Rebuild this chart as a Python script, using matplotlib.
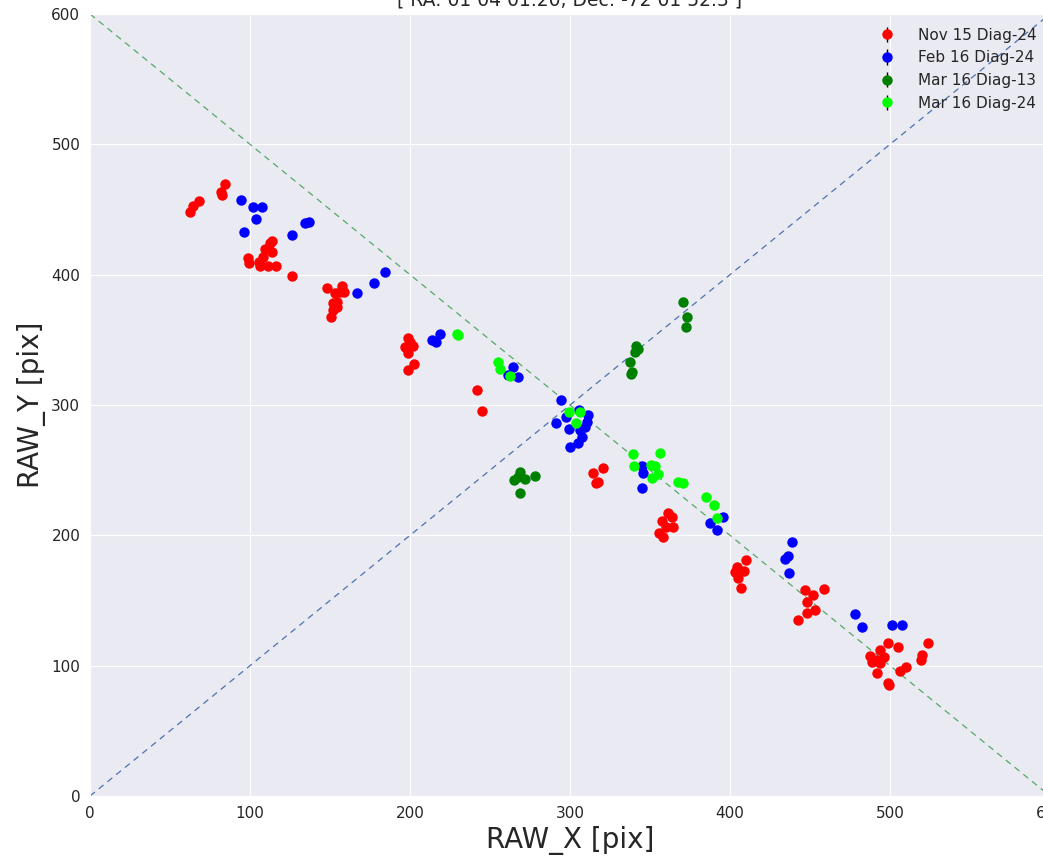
import numpy as np
import matplotlib
matplotlib.use("Agg")
import matplotlib.pyplot as plt
import seaborn as sns

sns.set_style("darkgrid")
plt.rcParams['font.family'] = ['DejaVu Sans']

title = "[ RA: 01 04 01.20, Dec: -72 01 52.3 ]"

# Nov 15 Diag-24
nov15_x = [62.5, 64.6, 68.1, 82.3, 84.4, 81.9, 98.8, 99.4, 105.6, 108.1, 109.4, 112.5, 113.8,
           113.8, 111.3, 116.3, 106.3, 126.3, 148.3, 157.3, 158.9, 153.1, 152.1, 154.6, 152.1,
           150.4, 156.3, 154.2, 198.9, 200.0, 196.9, 202.1, 198.9, 202.5, 198.6, 241.7, 244.7,
           314.6, 320.4, 316.3, 317.5, 361.4, 363.6, 357.3, 364.2, 360.0, 355.8, 358.3, 410.0,
           404.1, 408.8, 403.1, 405.2, 406.7, 446.9, 452.1, 458.8, 447.9, 453.1, 447.9, 442.5,
           498.9, 493.8, 505.2, 487.2, 496.3, 491.7, 488.6, 493.8, 491.7, 498.9, 499.4, 506.3,
           510.3, 519.4, 520.3, 523.9]
nov15_y = [447.7, 453.0, 456.4, 461.5, 469.9, 463.8, 412.9, 409.1, 409.8, 413.7, 419.8, 424.4, 425.9,
           417.5, 406.8, 406.8, 406.8, 399.1, 390.1, 391.6, 386.6, 385.8, 378.1, 379.4, 373.0,
           367.4, 387.0, 375.5, 351.3, 348.7, 344.4, 345.4, 339.8, 331.5, 326.9, 311.6, 295.5,
           248.1, 251.5, 240.0, 241.0, 217.4, 214.4, 211.3, 206.2, 206.2, 201.6, 199.0, 181.1,
           176.0, 172.9, 172.1, 167.1, 159.4, 158.1, 154.3, 158.6, 149.1, 142.7, 140.2, 135.1,
           117.7, 112.0, 114.1, 107.1, 106.4, 104.4, 103.1, 101.8, 94.6, 87.0, 84.8, 96.2,
           99.2, 104.4, 108.2, 117.2]

# Feb 16 Diag-24
feb16_x = [94.2, 102.1, 107.5, 103.8, 96.1, 126.4, 134.4, 137.1, 166.7, 177.7, 184.2, 213.8,
           216.3, 218.8, 264.2, 267.7, 261.4, 294.1, 291.1, 297.5, 305.8, 311.3, 310.4, 299.6,
           306.3, 307.3, 305.2, 300.0, 309.4, 344.8, 345.4, 344.8, 387.5, 391.6, 395.4, 438.6,
           436.4, 434.4, 437.1, 478.1, 482.3, 501.3, 507.7]
feb16_y = [457.2, 452.3, 452.3, 442.6, 432.8, 430.8, 439.5, 440.7, 385.8, 393.7, 402.4, 350.0,
           348.4, 354.6, 329.5, 321.3, 323.1, 303.5, 286.5, 291.1, 296.2, 292.4, 287.3, 281.4,
           280.9, 275.8, 271.1, 268.1, 283.4, 253.3, 247.9, 236.4, 209.5, 204.1, 214.1, 195.2,
           184.2, 181.7, 170.9, 139.7, 129.5, 131.2, 131.2]

# Mar 16 Diag-13
mar16_13_x = [268.9, 265.0, 271.9, 278.1, 267.7, 268.8, 370.6, 373.1, 372.5, 341.3, 342.5,
              340.6, 337.5, 338.8, 338.1]
mar16_13_y = [248.9, 242.5, 243.1, 245.6, 245.1, 232.8, 379.1, 367.6, 359.9, 345.4, 343.1,
              340.8, 333.1, 325.4, 323.9]

# Mar 16 Diag-24
mar16_24_x = [229.2, 230.0, 255.2, 256.3, 262.5, 299.6, 306.3, 303.6, 339.6, 340.0, 356.3,
              350.4, 353.1, 355.2, 351.1, 367.3, 370.8, 385.0, 390.0, 391.7]
mar16_24_y = [354.6, 353.8, 333.3, 327.5, 322.3, 294.9, 294.9, 286.5, 262.5, 253.3, 263.5,
              254.0, 253.3, 247.1, 243.8, 241.2, 240.0, 229.2, 223.3, 213.6]

series = [
    ("Nov 15 Diag-24", nov15_x, nov15_y, "red"),
    ("Feb 16 Diag-24", feb16_x, feb16_y, "blue"),
    ("Mar 16 Diag-13", mar16_13_x, mar16_13_y, "green"),
    ("Mar 16 Diag-24", mar16_24_x, mar16_24_y, "lime"),
]

fig = plt.figure(figsize=(10.43, 8.61), dpi=100)
ax = fig.add_axes([90 / 1043, 65 / 861, 960 / 1043, 782 / 861])

line = np.array([0, 600])
ax.plot(line, line, color='#4C72B0', lw=0.9, dashes=(5, 4))
ax.plot(line, 600 - line, color='#55A868', lw=0.9, dashes=(5, 4))

for label, x, y, c in series:
    ax.errorbar(x, y, yerr=np.zeros(len(y)), fmt='o', color=c, ecolor='k',
                capsize=3, elinewidth=1, ms=7.5, mew=0, label=label)

ax.set_xlim(0, 600)
ax.set_ylim(0, 600)
ax.set_xticks([0, 100, 200, 300, 400, 500, 600])
ax.set_yticks([0, 100, 200, 300, 400, 500, 600])
ax.tick_params(labelsize=11, colors='.15')
ax.set_xlabel('RAW_X [pix]', fontsize=20, color='.15')
ax.set_ylabel('RAW_Y [pix]', fontsize=20, color='.15')
ax.set_title(title, fontsize=13.5, color='.15')
ax.legend(loc='upper right', fontsize=11, frameon=False, numpoints=1,
          borderaxespad=0.3, handletextpad=1.0, borderpad=0.6)

fig.savefig('out.png', dpi=100)
